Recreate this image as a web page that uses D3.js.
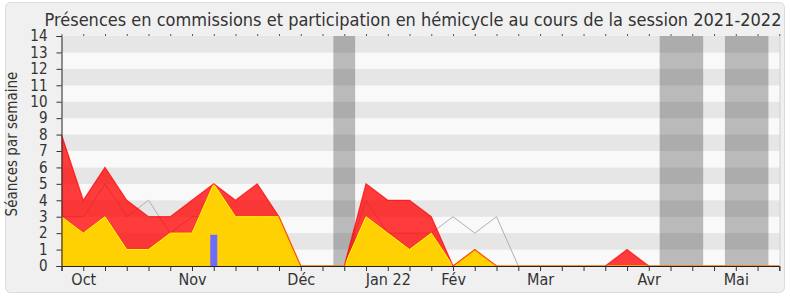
<!DOCTYPE html>
<html>
<head>
<meta charset="utf-8">
<script src="https://cdn.jsdelivr.net/npm/d3@7"></script>
<style>
  body { margin: 0; background: #fff; }
  svg text { font-family: "DejaVu Sans Condensed", "DejaVu Sans", sans-serif; font-stretch: condensed; fill: #333; }
</style>
</head>
<body>
<div id="chart"></div>
<script>
// one value per week of the session, week 0 = end of september
const presences = [8, 4, 6, 4, 3, 3, 4, 5, 4, 5, 3, 0, 0, 0, 5, 4, 4, 3, 0, 1, 0, 0, 0, 0, 0, 0, 1, 0, 0, 0, 0, 0, 0, 0];
const participations = [3, 2, 3, 1, 1, 2, 2, 5, 3, 3, 3, 0, 0, 0, 3, 2, 1, 2, 0, 1, 0, 0, 0, 0, 0, 0, 0, 0, 0, 0, 0, 0, 0, 0];
const mediane = [3, 3, 5, 3, 4, 2, 3, 3, 3, 2, 2, 0, 0, 0, 4, 2, 2, 2, 3, 2, 3, 0, 0, 0, 0, 0, 0, 0, 0, 0, 0, 0, 0, 0];
const questionsWeeks = [7];
const questionsValues = [1.9];
const vacances = [[12.5, 13.5], [27.5, 29.5], [30.5, 32.5]];
const monthWeeks = [1, 6, 11, 15, 18, 22, 27, 31];
const monthLabels = ["Oct", "Nov", "Déc", "Jan 22", "Fév", "Mar", "Avr", "Mai"];
const yMax = 14;

const width = 790, height = 300;
const mLeft = 61.5, mRight = 780, mTop = 36, mBottom = 266;

const svg = d3.select("#chart")
    .append("svg")
    .attr("width", width)
    .attr("height", height);

svg.append("rect")
    .attr("x", 5.5).attr("y", 2.5)
    .attr("width", 779).attr("height", 290)
    .attr("rx", 5)
    .attr("fill", "#f0f0f0")
    .attr("stroke", "#dcdcdc");

const x = d3.scaleLinear().domain([0, 33]).range([mLeft, 779.3]);
const y = d3.scaleLinear().domain([0, yMax]).range([mBottom, mTop]);

// stripes
svg.append("g")
    .selectAll("rect")
    .data(d3.range(0, yMax))
    .enter().append("rect")
    .attr("x", mLeft)
    .attr("width", mRight - mLeft)
    .attr("y", d => y(d + 1))
    .attr("height", d => y(d) - y(d + 1))
    .attr("fill", d => d % 2 ? "#e6e6e6" : "#f9f9f9");

svg.append("line")
    .attr("x1", mRight).attr("x2", mRight)
    .attr("y1", mTop).attr("y2", mBottom)
    .attr("stroke", "#d0d0d0");

// holidays
svg.append("g")
    .selectAll("rect")
    .data(vacances)
    .enter().append("rect")
    .attr("x", d => x(d[0]))
    .attr("width", d => x(d[1]) - x(d[0]))
    .attr("y", mTop)
    .attr("height", mBottom - mTop)
    .attr("fill", "#000")
    .attr("fill-opacity", 0.25);

const weeks = d3.range(presences.length);

svg.append("path")
    .datum(weeks)
    .attr("fill", "none")
    .attr("stroke", "#b0b0b0")
    .attr("stroke-width", 1)
    .attr("d", d3.line().x(i => x(i)).y(i => y(mediane[i])));

svg.append("path")
    .datum(weeks)
    .attr("fill", "#ff0000")
    .attr("fill-opacity", 0.76)
    .attr("d", d3.area().x(i => x(i)).y0(y(0)).y1(i => y(presences[i])));

svg.append("path")
    .datum(weeks)
    .attr("fill", "#ffd700")
    .attr("fill-opacity", 0.96)
    .attr("d", d3.area().x(i => x(i)).y0(y(0)).y1(i => y(participations[i])));

svg.append("path")
    .datum(weeks)
    .attr("fill", "none")
    .attr("stroke", "#ffff00")
    .attr("stroke-width", 1)
    .attr("d", d3.line().x(i => x(i)).y(i => y(participations[i])));

svg.append("path")
    .datum(weeks)
    .attr("fill", "none")
    .attr("stroke", "#ff0000")
    .attr("stroke-opacity", 0.7)
    .attr("stroke-width", 1.2)
    .attr("d", d3.line().x(i => x(i)).y(i => y(presences[i])));

svg.append("g")
    .selectAll("rect")
    .data(questionsWeeks)
    .enter().append("rect")
    .attr("x", (d, i) => x(d) - 3.5)
    .attr("width", 7)
    .attr("y", (d, i) => y(questionsValues[i]))
    .attr("height", (d, i) => y(0) - y(questionsValues[i]))
    .attr("fill", "#6b6bff");

// axes
const xAxis = svg.append("g")
    .attr("transform", `translate(0,${mBottom})`)
    .call(d3.axisBottom(x)
        .tickValues(weeks)
        .tickSize(5)
        .tickPadding(3)
        .tickFormat(d => {
            const k = monthWeeks.indexOf(d);
            return k < 0 ? "" : monthLabels[k];
        }));
xAxis.select(".domain").attr("stroke", "#222");
xAxis.selectAll(".tick line").attr("stroke", "#333");
xAxis.selectAll("text").attr("font-size", 16).attr("fill", "#333");

const xTop = svg.append("g")
    .attr("transform", `translate(0,${mTop})`)
    .call(d3.axisTop(x).tickValues(weeks).tickSize(2).tickFormat(""));
xTop.select(".domain").remove();
xTop.selectAll(".tick line").attr("stroke", "#555");

const yAxis = svg.append("g")
    .attr("transform", `translate(${mLeft},0)`)
    .call(d3.axisLeft(y).ticks(14).tickSize(5).tickPadding(9));
yAxis.select(".domain").attr("stroke", "#222");
yAxis.selectAll(".tick line").attr("stroke", "#333");
yAxis.selectAll("text").attr("font-size", 15).attr("fill", "#333");

svg.append("text")
    .attr("x", 413)
    .attr("y", 26)
    .attr("text-anchor", "middle")
    .attr("font-size", 18)
    .text("Présences en commissions et participation en hémicycle au cours de la session 2021-2022");

svg.append("text")
    .attr("transform", "translate(17,144) rotate(-90)")
    .attr("text-anchor", "middle")
    .attr("font-size", 15)
    .text("Séances par semaine");
</script>
</body>
</html>
